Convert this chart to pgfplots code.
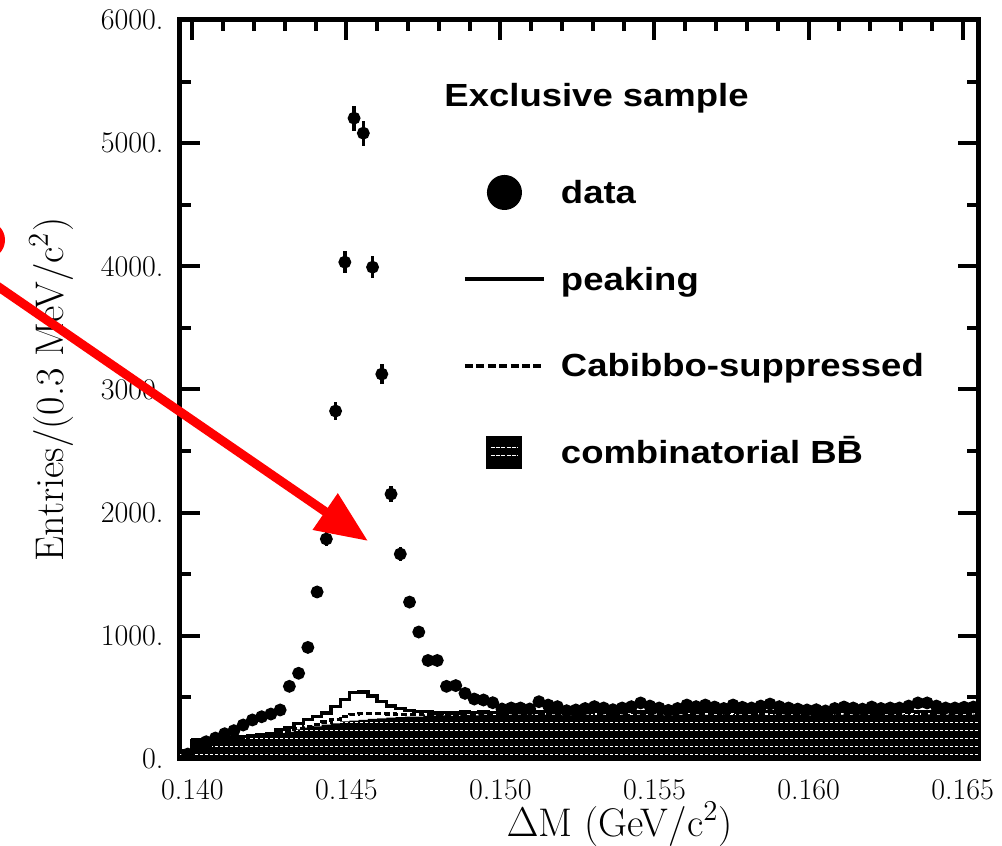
\documentclass[border=0pt]{standalone}
\usepackage{fontspec}
\usepackage{pgfplots}
\usepackage{pgfplotstable}
\pgfplotsset{compat=1.18}
\usetikzlibrary{arrows.meta,patterns.meta}
\newfontfamily\legfont[FakeStretch=1.14]{Liberation Sans}

\pgfdeclarepattern{
  name=whitedash,
  type=uncolored,
  bottom left={\pgfpoint{-0.1pt}{-0.1pt}},
  top right={\pgfpoint{2.6pt}{4.1pt}},
  tile size={\pgfpoint{2.5pt}{4pt}},
  code={
    \pgfsetlinewidth{0.35pt}
    \pgfpathmoveto{\pgfpoint{0pt}{2pt}}
    \pgfpathlineto{\pgfpoint{1.7pt}{2pt}}
    \pgfusepath{stroke}
  }
}

% histogram bin left edges: B = combinatorial BBbar, S = B + Cabibbo-suppressed, T = S + peaking
\pgfplotstableread{
x B S T
0.1396 60 63 68
0.1397 60 63 68
0.1400 150 153 158
0.1403 110 113 118
0.1406 130 133 138
0.1409 150 153 158
0.1412 165 168 173
0.1415 175 178 183
0.1418 180 183 188
0.1421 190 193 198
0.1424 200 203 208
0.1427 210 215 240
0.1430 220 228 258
0.1433 240 250 290
0.1436 255 267 322
0.1439 265 280 345
0.1442 280 300 375
0.1445 290 318 428
0.1448 305 345 485
0.1451 312 362 542
0.1454 318 370 545
0.1457 325 370 510
0.1460 330 368 468
0.1463 335 365 430
0.1466 340 362 412
0.1469 345 363 393
0.1472 345 360 385
0.1475 350 364 384
0.1478 352 362 374
0.1481 355 365 377
0.1484 350 360 372
0.1487 358 368 380
0.1490 355 365 377
0.1493 360 370 382
0.1496 356 366 378
0.1499 362 372 384
0.1502 358 368 380
0.1505 360 370 382
0.1508 365 375 387
0.1511 358 368 380
0.1514 362 372 384
0.1517 360 370 382
0.1520 355 365 377
0.1523 362 372 384
0.1526 360 370 382
0.1529 365 375 387
0.1532 358 368 380
0.1535 362 372 384
0.1538 360 370 382
0.1541 366 376 388
0.1544 360 370 382
0.1547 358 368 380
0.1550 362 372 384
0.1553 355 365 377
0.1556 360 370 382
0.1559 364 374 386
0.1562 360 370 382
0.1565 362 372 384
0.1568 358 368 380
0.1571 362 372 384
0.1574 365 375 387
0.1577 360 370 382
0.1580 358 368 380
0.1583 362 372 384
0.1586 366 376 388
0.1589 360 370 382
0.1592 362 372 384
0.1595 358 368 380
0.1598 355 365 377
0.1601 360 370 382
0.1604 352 362 374
0.1607 356 366 378
0.1610 362 372 384
0.1613 360 370 382
0.1616 362 372 384
0.1619 360 370 382
0.1622 364 374 386
0.1625 360 370 382
0.1628 362 372 384
0.1631 365 375 387
0.1634 366 376 388
0.1637 362 372 384
0.1640 360 370 382
0.1643 362 372 384
0.1646 360 370 382
0.1649 358 368 380
0.1652 362 372 384
0.1655 362 372 384
}\hist

\pgfplotstableread{
x y ey
0.13985 40 9
0.14015 110 15
0.14045 140 17
0.14075 170 18
0.14105 205 20
0.14135 230 21
0.14165 276 23
0.14195 317 25
0.14225 343 26
0.14255 365 27
0.14285 398 28
0.14315 590 34
0.14345 696 37
0.14375 906 42
0.14405 1356 52
0.14435 1786 59
0.14465 2825 74
0.14495 4034 89
0.14525 5203 101
0.14555 5081 100
0.14585 3993 88
0.14615 3125 78
0.14645 2151 65
0.14675 1664 57
0.14705 1274 50
0.14735 1031 45
0.14765 800 40
0.14795 800 40
0.14825 590 34
0.14855 596 34
0.14885 533 32
0.14915 487 31
0.14945 479 31
0.14975 457 30
0.15005 406 28
0.15035 414 28
0.15065 414 28
0.15095 406 28
0.15125 465 30
0.15155 438 29
0.15185 425 29
0.15215 392 28
0.15245 398 28
0.15275 410 28
0.15305 425 29
0.15335 414 28
0.15365 400 28
0.15395 414 28
0.15425 425 29
0.15455 455 30
0.15485 430 29
0.15515 414 28
0.15545 395 28
0.15575 410 28
0.15605 438 29
0.15635 425 29
0.15665 438 29
0.15695 422 29
0.15725 410 28
0.15755 438 29
0.15785 420 29
0.15815 414 28
0.15845 430 29
0.15875 446 30
0.15905 425 29
0.15935 414 28
0.15965 405 28
0.15995 398 28
0.16025 400 28
0.16055 390 28
0.16085 410 28
0.16115 422 29
0.16145 414 28
0.16175 405 28
0.16205 422 29
0.16235 410 28
0.16265 414 28
0.16295 414 28
0.16325 430 29
0.16355 455 30
0.16385 455 30
0.16415 430 29
0.16445 414 28
0.16475 414 28
0.16505 420 29
0.16535 422 29
}\data

\begin{document}
\begin{tikzpicture}
\begin{axis}[
  scale only axis,
  width=399pt, height=369.5pt,
  xmin=0.1396, xmax=0.1655,
  ymin=0, ymax=6000,
  line width=2.5pt,
  tick align=inside,
  xtick pos=both, ytick pos=both,
  major tick length=10pt,
  minor tick length=5.5pt,
  every tick/.style={black, line width=2pt},
  xtick={0.14,0.145,0.15,0.155,0.16,0.165},
  xticklabels={0.140,0.145,0.150,0.155,0.160,0.165},
  minor x tick num=4,
  ytick={0,1000,2000,3000,4000,5000,6000},
  yticklabels={0.,1000.,2000.,3000.,4000.,5000.,6000.},
  minor y tick num=1,
  scaled x ticks=false,
  ticklabel style={font=\fontsize{15}{18}\selectfont},
  yticklabel style={inner sep=0pt, anchor=east, xshift=-7pt},
  xticklabel style={inner sep=0pt, anchor=north, yshift=-9pt},
  label style={font=\fontsize{20}{24}\selectfont},
  xlabel={$\Delta$M (GeV/c$^2$)},
  ylabel={Entries/(0.3 MeV/c$^2$)},
  xlabel style={at={(axis description cs:0.5508,-0.1042)}, anchor=base, inner sep=0pt},
  ylabel style={at={(axis description cs:-0.1466,0.5)}, anchor=base, inner sep=0pt},
  legend cell align=left,
  legend style={draw=none, fill=none, at={(0.3546,0.7903)}, anchor=north west,
    inner sep=0pt, outer sep=0pt, row sep=26.25pt, column sep=7.5pt,
    font=\legfont\bfseries\fontsize{16}{19}\selectfont,
    nodes={inner sep=0pt, text height=14pt, text depth=3pt}},
]
\addplot[const plot, fill=black, draw=none, line width=0pt, forget plot,
  postaction={pattern=whitedash, pattern color=white}]
  table[x=x, y=B] {\hist} \closedcycle;
\addplot[const plot, black, line width=1.6pt, dash pattern=on 3pt off 1.5pt, forget plot]
  table[x=x, y=S] {\hist};
\addplot[const plot, black, line width=1.7pt, forget plot]
  table[x=x, y=T] {\hist};
\addplot[only marks, mark=*, mark size=1.9pt, black, forget plot,
  error bars/.cd, x dir=both, x fixed=0.00013, y dir=both, y explicit,
  error mark=none, error bar style={line width=1.7pt, black}]
  table[x=x, y=y, y error=ey] {\data};

\addlegendimage{legend image code/.code={\fill[black] (19.75pt,0pt) circle (7.5pt);}}
\addlegendentry{data}
\addlegendimage{legend image code/.code={\draw[black, line width=2pt] (0pt,0pt) -- (39.5pt,0pt);}}
\addlegendentry{peaking}
\addlegendimage{legend image code/.code={\draw[black, line width=2pt, dash pattern=on 4pt off 1.7pt] (0pt,0pt) -- (39.5pt,0pt);}}
\addlegendentry{Cabibbo-suppressed}
\addlegendimage{legend image code/.code={\fill[black] (12pt,-7pt) rectangle (27.5pt,7pt);
  \draw[white, line width=0.5pt, dash pattern=on 2pt off 0.6pt] (13pt,-1.5pt) -- (26.5pt,-1.5pt) (13pt,2.5pt) -- (26.5pt,2.5pt);}}
\addlegendentry{combinatorial B\={B}}

\node[font=\legfont\bfseries\fontsize{16}{19}\selectfont, anchor=base west, inner sep=0pt]
  at (axis description cs:0.3283,0.8823) {Exclusive sample};
\end{axis}
\draw[red, line width=4pt] (-97pt,259.5pt) circle (7.5pt);
\draw[red, line width=4.5pt, -{Triangle[length=26pt,width=21pt]}] (-95pt,239pt) -- (94pt,109pt);
\pgfresetboundingbox
\useasboundingbox (-90pt,-43.5pt) rectangle (411pt,379.5pt);
\end{tikzpicture}
\end{document}
